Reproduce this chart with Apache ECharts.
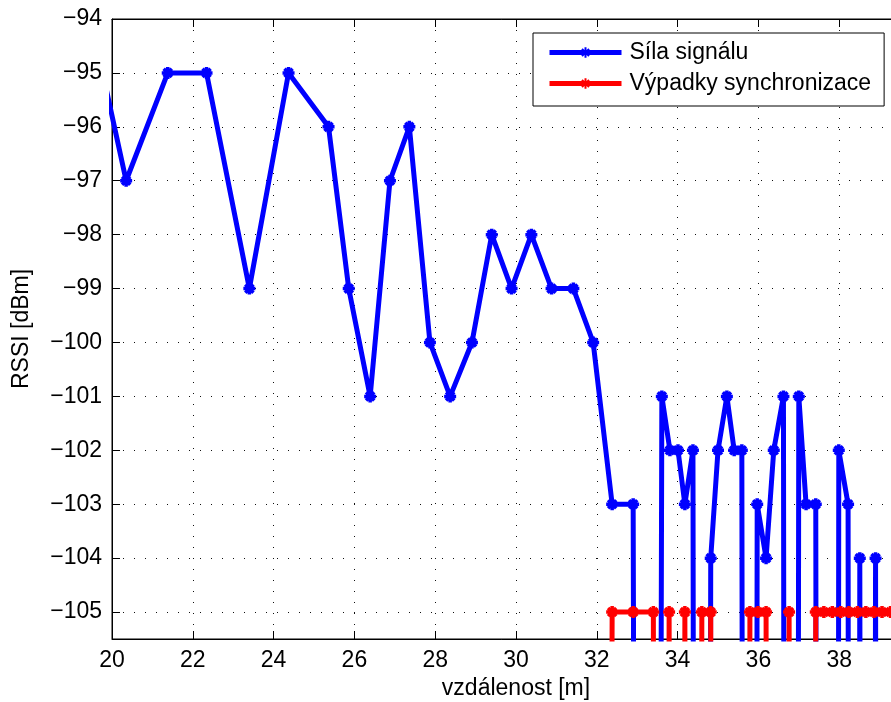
<!DOCTYPE html>
<html><head><meta charset="utf-8">
<script src="https://cdn.jsdelivr.net/npm/echarts@6/dist/echarts.min.js"></script>
<style>html,body{margin:0;padding:0;background:#fff;overflow:hidden}#c{width:891px;height:702px}</style>
</head><body><div id="c"></div>
<script>
// placeholder for "no signal" samples (far below the visible range)
const NO_SIGNAL = -200;

const distanceSignal = [19.77, 20.35, 21.38, 22.34, 23.40, 24.37, 25.36, 25.86, 26.39, 26.88, 27.36, 27.87, 28.37, 28.91, 29.40, 29.89, 30.38, 30.88, 31.42, 31.91, 32.38, 32.90, 33.25, 33.61, 33.81, 34.01, 34.18, 34.38, 34.60, 34.82, 35.00, 35.22, 35.40, 35.59, 35.79, 35.97, 36.19, 36.38, 36.62, 36.80, 37.00, 37.18, 37.42, 37.62, 37.83, 37.99, 38.22, 38.36, 38.51, 38.70, 38.90, 39.06, 39.27, 39.47];
const rssiValues = [-95, -97, -95, -95, -99, -95, -96, -99, -101, -97, -96, -100, -101, -100, -98, -99, -98, -99, -99, -100, -103, -103, NO_SIGNAL, -101, -102, -102, -103, -102, NO_SIGNAL, -104, -102, -101, -102, -102, NO_SIGNAL, -103, -104, -102, -101, NO_SIGNAL, -101, -103, -103, NO_SIGNAL, NO_SIGNAL, -102, -103, NO_SIGNAL, -104, NO_SIGNAL, -104, NO_SIGNAL, NO_SIGNAL, NO_SIGNAL];

const distanceSync = [31.91, 32.38, 32.90, 33.40, 33.61, 33.79, 34.00, 34.18, 34.38, 34.60, 34.82, 35.00, 35.59, 35.79, 35.99, 36.19, 36.38, 36.56, 36.76, 36.98, 37.20, 37.42, 37.62, 37.83, 38.04, 38.24, 38.45, 38.66, 38.86, 39.06, 39.27, 39.47];
const syncValues = [NO_SIGNAL, -105, -105, -105, NO_SIGNAL, -105, NO_SIGNAL, -105, NO_SIGNAL, -105, -105, NO_SIGNAL, NO_SIGNAL, -105, -105, -105, NO_SIGNAL, NO_SIGNAL, -105, NO_SIGNAL, NO_SIGNAL, -105, -105, -105, -105, -105, -105, -105, -105, -105, -105, -105];

const seriesNames = ['Síla signálu', 'Výpadky synchronizace'];
const xMin = 20, xMax = 40, xStep = 2;
const yMin = -105.5, yMax = -94, yStep = 0.5;
const yTickValues = [-105, -104, -103, -102, -101, -100, -99, -98, -97, -96, -95, -94];
const xTitle = 'vzdálenost [m]';
const yTitle = 'RSSI [dBm]';

const FONT = '"Liberation Sans", Arial, Helvetica, sans-serif';
const STAR = 'path://M0,5L10,5M5,0L5,10M1.6,1.6L8.4,8.4M1.6,8.4L8.4,1.6';

function fmtY(v) {
  const r = Math.round(v);
  if (Math.abs(v - r) > 1e-6) return '';
  return (r < 0 ? '\u2212' : '') + Math.abs(r);
}

const chart = echarts.init(document.getElementById('c'), null, {renderer: 'canvas'});
chart.setOption({
  animation: false,
  backgroundColor: '#fff',
  grid: {left: 112, top: 19, width: 808, bottom: 63, outerBoundsMode: 'none', containLabel: false,
         show: true, borderColor: '#000', borderWidth: 1, backgroundColor: 'transparent'},
  legend: {
    data: seriesNames, orient: 'vertical', left: 533, top: 33,
    padding: [8, 13, 11, 14], itemGap: 8, itemWidth: 72, itemHeight: 13,
    borderColor: '#000', borderWidth: 1, backgroundColor: '#fff',
    lineStyle: {width: 5},
    textStyle: {fontSize: 23, fontFamily: FONT, color: '#000', padding: [0, 0, 0, 3]}
  },
  xAxis: [{
    type: 'value', min: xMin, max: xMax, interval: xStep, position: 'bottom',
    axisLine: {show: true, onZero: false, lineStyle: {color: '#000', width: 1}},
    axisTick: {show: true, inside: true, length: 8, lineStyle: {color: '#000'}},
    axisLabel: {fontSize: 23, fontFamily: FONT, color: '#000', margin: 10, showMaxLabel: false},
    splitLine: {show: true, lineStyle: {color: '#111', type: [1, 10], width: 1}},
    name: xTitle, nameLocation: 'middle', nameGap: 38,
    nameTextStyle: {fontSize: 23, fontFamily: FONT, color: '#000'}
  }, {
    type: 'value', min: xMin, max: xMax, interval: xStep, position: 'top',
    axisLine: {show: true, onZero: false, lineStyle: {color: '#000', width: 1}},
    axisTick: {show: true, inside: true, length: 8, lineStyle: {color: '#000'}},
    axisLabel: {show: false}, splitLine: {show: false}
  }],
  yAxis: [{
    type: 'value', min: yMin, max: yMax, interval: yStep, position: 'left',
    axisLine: {show: true, onZero: false, lineStyle: {color: '#000', width: 1}},
    axisTick: {show: false},
    axisLabel: {fontSize: 23, fontFamily: FONT, color: '#000', margin: 10, formatter: fmtY},
    splitLine: {show: true, showMinLine: true, showMaxLine: true, lineStyle: {color: ['rgba(0,0,0,0)', '#111'], type: [1, 10], width: 1}},
    name: yTitle, nameLocation: 'middle', nameGap: 79, nameRotate: 90,
    nameTextStyle: {fontSize: 23, fontFamily: FONT, color: '#000'}
  }, {
    type: 'value', min: yMin, max: yMax, position: 'left',
    axisLine: {show: false, onZero: false},
    axisTick: {show: true, inside: true, length: 8, customValues: yTickValues, lineStyle: {color: '#000'}},
    axisLabel: {show: false}, splitLine: {show: false}
  }],
  series: [{
    type: 'line', name: seriesNames[0],
    data: distanceSignal.map((d, i) => [d, rssiValues[i]]),
    symbol: STAR, symbolSize: 12, clip: true,
    lineStyle: {color: '#0000ff', width: 5},
    itemStyle: {color: '#0000ff', borderColor: '#0000ff', borderWidth: 3.5},
    z: 2
  }, {
    type: 'line', name: seriesNames[1],
    data: distanceSync.map((d, i) => [d, syncValues[i]]),
    symbol: STAR, symbolSize: 12, clip: true,
    lineStyle: {color: '#ff0000', width: 5},
    itemStyle: {color: '#ff0000', borderColor: '#ff0000', borderWidth: 3.5},
    z: 3
  }]
});
</script>
</body></html>
